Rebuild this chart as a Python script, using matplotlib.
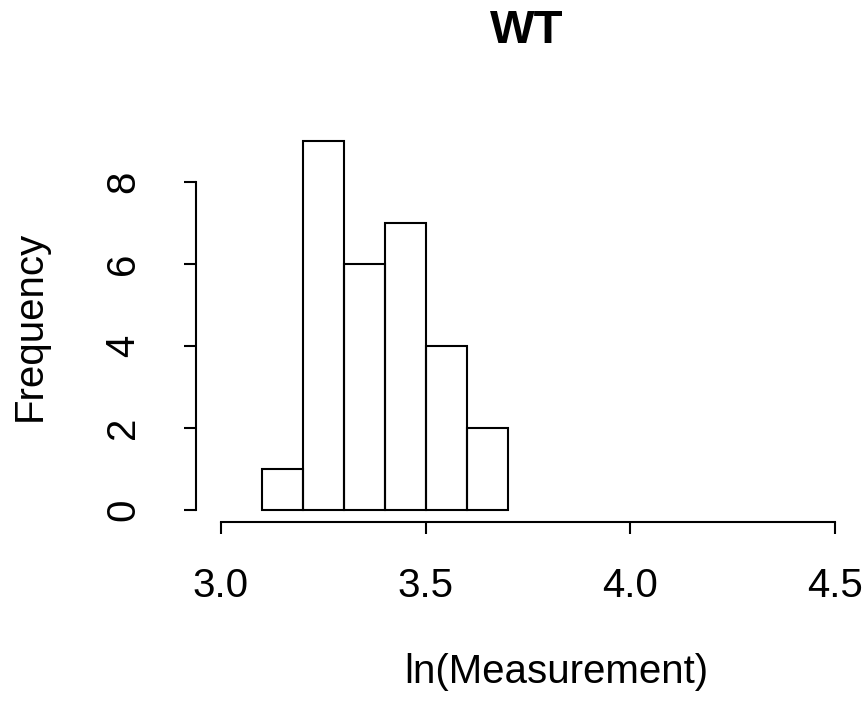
import matplotlib.pyplot as plt

plt.rcParams['font.family'] = ['Liberation Sans', 'DejaVu Sans']

# histogram
bin_edges = [3.1, 3.2, 3.3, 3.4, 3.5, 3.6, 3.7]
counts = [1, 9, 6, 7, 4, 2]
x_ticks = [3.0, 3.5, 4.0, 4.5]
x_tick_labels = ['3.0', '3.5', '4.0', '4.5']
y_ticks = [0, 2, 4, 6, 8]

W, H = 868, 721
fig = plt.figure(figsize=(W / 100, H / 100), dpi=100)

# axes box in pixels: left 196, right 860, top 120, bottom 522
ax = fig.add_axes([196 / W, 1 - 522 / H, 664 / W, 402 / H])
px_x = 409.3   # pixels per unit on x
px_y = 41.0    # pixels per count on y
ax.set_xlim(3.0 - 25 / px_x, 3.0 + 639 / px_x)
ax.set_ylim(-12 / px_y, -12 / px_y + 402 / px_y)

widths = [b - a for a, b in zip(bin_edges[:-1], bin_edges[1:])]
ax.bar(bin_edges[:-1], counts, width=widths, align='edge',
       fill=False, edgecolor='black', linewidth=1.5)

for s in ['top', 'right']:
    ax.spines[s].set_visible(False)
ax.spines['left'].set_bounds(0, 8)
ax.spines['bottom'].set_bounds(3.0, 4.5)
for s in ['left', 'bottom']:
    ax.spines[s].set_linewidth(1.5)

ax.set_xticks(x_ticks)
ax.set_xticklabels(x_tick_labels)
ax.set_yticks(y_ticks)
ax.tick_params(axis='both', direction='out', length=8.6, width=1.5,
               labelsize=29)
ax.tick_params(axis='x', pad=24)
ax.tick_params(axis='y', pad=30)
for lab in ax.get_yticklabels():
    lab.set_rotation(90)
    lab.set_va('center')

fig.text(527 / W, 1 - 31 / H, 'WT', ha='center', va='center',
         fontsize=34, fontweight='bold')
fig.text(556 / W, 1 - 672 / H, 'ln(Measurement)', ha='center', va='center',
         fontsize=29)
fig.text(30 / W, 1 - 326 / H, 'Frequency', ha='center', va='center',
         fontsize=29, rotation=90)

plt.savefig('out.png', dpi=100)
